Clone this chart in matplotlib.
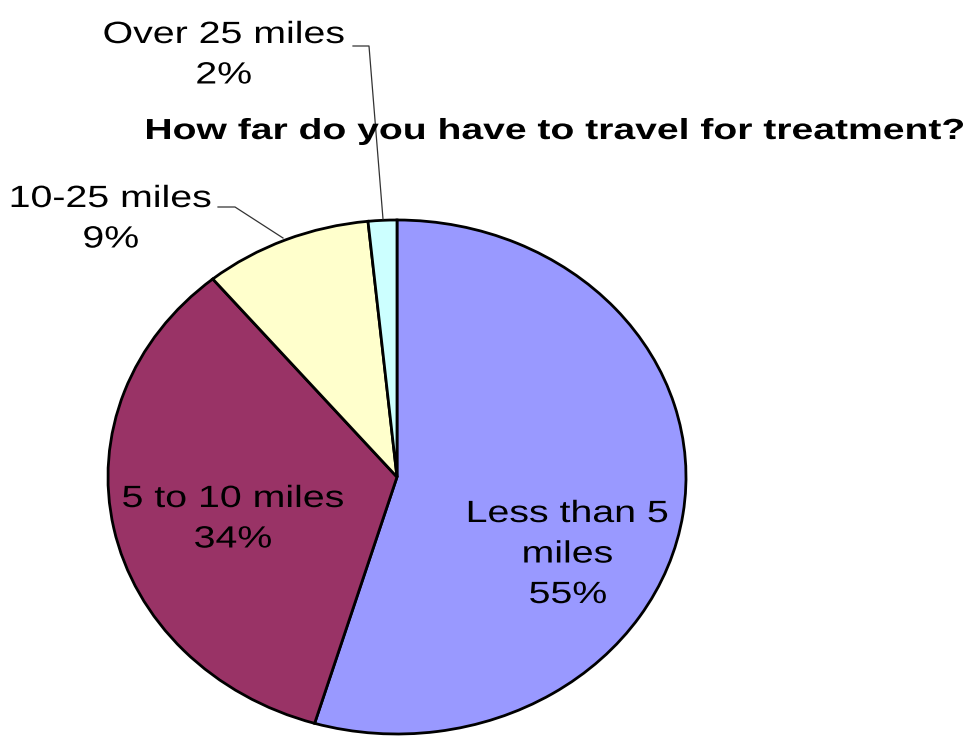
import matplotlib
matplotlib.use("Agg")
import matplotlib.pyplot as plt
from matplotlib.textpath import TextPath
from matplotlib.patches import PathPatch
from matplotlib.font_manager import FontProperties
from matplotlib.transforms import Affine2D

# data (slice sizes, labels as printed)
labels = ["Less than 5\nmiles", "5 to 10 miles", "10-25 miles", "Over 25 miles"]
values = [54.6, 34.4, 9.4, 1.6]
pct_labels = ["55%", "34%", "9%", "2%"]
colors = ["#9999FF", "#993366", "#FFFFCC", "#CCFFFF"]
title = "How far do you have to travel for treatment?"

W, H = 971, 736
fig = plt.figure(figsize=(W / 100, H / 100), dpi=100)
ax = fig.add_axes([0, 0, 1, 1])

# pie centre and radii in pixels (the original is stretched sideways)
cx, cy, rx, ry = 397, 477, 289, 257

ax.pie(values, colors=colors, startangle=90, counterclock=False, radius=1,
       wedgeprops=dict(edgecolor="black", linewidth=2.0))
ax.set_aspect("auto")
ax.set_xlim(-cx / rx, (W - cx) / rx)
ax.set_ylim(-(H - cy) / ry, cy / ry)
ax.axis("off")


def px(x, y):
    # pixel (from top-left) -> data coords
    return (x - cx) / rx, (cy - y) / ry


def wide_text(text, xc, y0, pitch, em, sx=None, width=None, bold=False):
    # text drawn as paths so it can be stretched sideways like the original
    fp = FontProperties(family="Liberation Sans",
                        weight="bold" if bold else "normal")
    for i, line in enumerate(text.split("\n")):
        tp = TextPath((0, 0), line, size=em, prop=fp)
        ext = tp.get_extents()
        s = sx if sx is not None else width / ext.width
        yb = y0 + i * pitch
        tr = (Affine2D().translate(-(ext.x0 + ext.x1) / 2, 0).scale(s, 1)
              .translate(xc, H - yb))
        fig.add_artist(PathPatch(tp, transform=tr, fc="black", ec="none",
                                 lw=0))


# label centre x, first baseline y (pixels)
label_pos = [(568, 522), (233, 507), (111, 207), (224, 43)]
for lab, pct, (x, y) in zip(labels, pct_labels, label_pos):
    wide_text(f"{lab}\n{pct}", x, y, 40.5, 30.7, sx=1.28)

# leader lines for the small slices
for pts in ([(218, 207), (235, 207), (283, 238)],
            [(353, 46), (369, 46), (383, 219)]):
    xs, ys = zip(*[px(a, b) for a, b in pts])
    ax.plot(xs, ys, color="#333333", linewidth=0.9)

wide_text(title, 555, 139, 0, 29, width=816, bold=True)

fig.savefig("out.png", dpi=100)
